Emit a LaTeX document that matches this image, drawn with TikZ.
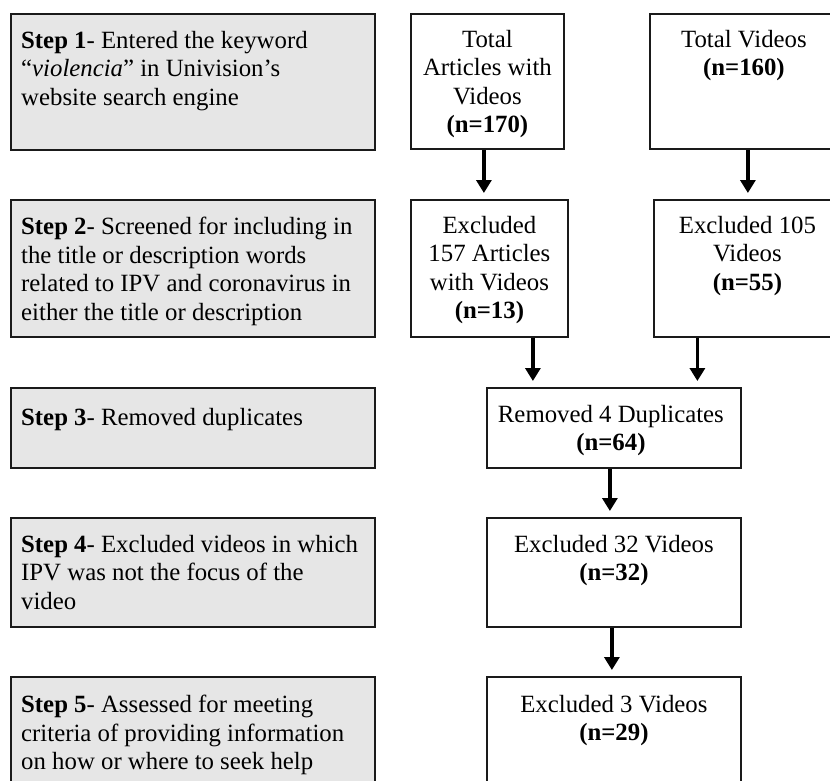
\documentclass[tikz,border=0pt]{standalone}
\usepackage{fontspec}
\setmainfont{Liberation Serif}
\usetikzlibrary{arrows.meta}
\definecolor{stepgray}{HTML}{E6E6E6}
\definecolor{edge}{HTML}{1A1A1A}
\begin{document}
\begin{tikzpicture}[x=1pt,y=-1pt,
  box/.style={draw=edge,line width=1.8pt,rectangle,anchor=north west,inner sep=0pt},
  stepbox/.style={box,fill=stepgray,minimum width=364pt},
  countbox/.style={box,fill=white},
  lefttext/.style={anchor=north west,align=left,inner sep=0pt,
    font=\fontsize{24.8}{28.5}\selectfont,execute at begin node=\strut},
  centertext/.style={anchor=north,align=center,inner sep=0pt,
    font=\fontsize{24.8}{28.5}\selectfont,execute at begin node=\strut},
  arr/.style={draw=black,line width=3.6pt,-{Triangle[width=15pt,length=13pt]},shorten >=6pt}
]
\useasboundingbox (0,0) rectangle (830,781);
\clip (0,0) rectangle (830,781);
% step boxes
\node[stepbox,minimum height=136pt] (s1) at (10,13) {};
\node[stepbox,minimum height=137pt] (s2) at (10,199) {};
\node[stepbox,minimum height=80pt] (s3) at (10,387) {};
\node[stepbox,minimum height=109pt] (s4) at (10,517) {};
\node[stepbox,minimum height=125pt] (s5) at (10,676) {};
% count boxes
\node[countbox,minimum width=153pt,minimum height=135pt] (a1) at (410,13) {};
\node[countbox,minimum width=188pt,minimum height=135pt] (v1) at (649,13) {};
\node[countbox,minimum width=157pt,minimum height=137pt] (a2) at (410,199) {};
\node[countbox,minimum width=187pt,minimum height=137pt] (v2) at (653,199) {};
\node[countbox,minimum width=254pt,minimum height=80pt] (r3) at (486,387) {};
\node[countbox,minimum width=254pt,minimum height=109pt] (r4) at (486,517) {};
\node[countbox,minimum width=254pt,minimum height=125pt] (r5) at (486,676) {};
% step texts
\node[lefttext] (t1) at ([xshift=11pt,yshift=-18pt]s1.north west)
  {\textbf{Step 1}- Entered the keyword\\ “\textit{violencia}” in Univision’s\\ website search engine};
\node[lefttext] (t2) at ([xshift=11pt,yshift=-18pt]s2.north west)
  {\textbf{Step 2}- Screened for including in\\ the title or description words\\ related to IPV and coronavirus in\\ either the title or description};
\node[lefttext] (t3) at ([xshift=11pt,yshift=-18pt]s3.north west)
  {\textbf{Step 3}- Removed duplicates};
\node[lefttext] (t4) at ([xshift=11pt,yshift=-18pt]s4.north west)
  {\textbf{Step 4}- Excluded videos in which\\ IPV was not the focus of the\\ video};
\node[lefttext] (t5) at ([xshift=11pt,yshift=-19pt]s5.north west)
  {\textbf{Step 5}- Assessed for meeting\\ criteria of providing information\\ on how or where to seek help};
% count texts
\node[centertext] (ta1) at ([yshift=-17pt]a1.north) {Total\\ Articles with\\ Videos\\ \textbf{(n=170)}};
\node[centertext] (tv1) at ([yshift=-17pt]v1.north) {Total Videos\\ \textbf{(n=160)}};
\node[centertext] (ta2) at ([yshift=-17pt]a2.north) {Excluded\\ 157 Articles\\ with Videos\\ \textbf{(n=13)}};
\node[centertext] (tv2) at ([yshift=-17pt]v2.north) {Excluded 105\\ Videos\\ \textbf{(n=55)}};
\node[centertext] (tr3) at ([xshift=-3pt,yshift=-18pt]r3.north) {Removed 4 Duplicates\\ \textbf{(n=64)}};
\node[centertext] (tr4) at ([yshift=-18pt]r4.north) {Excluded 32 Videos\\ \textbf{(n=32)}};
\node[centertext] (tr5) at ([yshift=-19pt]r5.north) {Excluded 3 Videos\\ \textbf{(n=29)}};
% arrows
\draw[arr] ([xshift=-3.5pt]a1.south) -- ([xshift=-3.5pt]a1.south |- a2.north);
\draw[arr] ([xshift=4pt]v1.south) -- ([xshift=4pt]v1.south |- v2.north);
\draw[arr] ([xshift=43.5pt]a2.south) -- ([xshift=43.5pt]a2.south |- r3.north);
\draw[arr] ([xshift=-50pt]v2.south) -- ([xshift=-50pt]v2.south |- r3.north);
\draw[arr] ([xshift=-4pt]r3.south) -- ([xshift=-4pt]r3.south |- r4.north);
\draw[arr] ([xshift=-2pt]r4.south) -- ([xshift=-2pt]r4.south |- r5.north);
\end{tikzpicture}
\end{document}
